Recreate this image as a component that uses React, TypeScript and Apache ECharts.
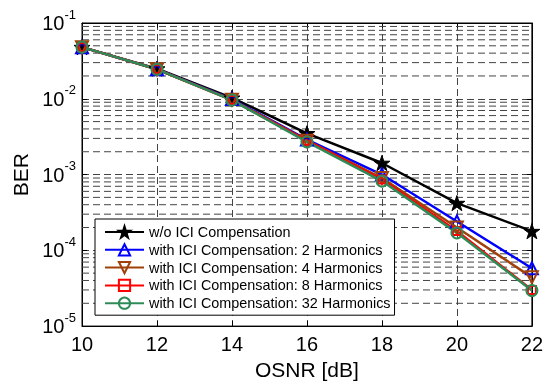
import React, { useEffect, useRef } from "react";
import * as echarts from "echarts";

const osnr = [10, 12, 14, 16, 18, 20, 22];
const berNoComp = [0.048, 0.025, 0.0103, 0.0035, 0.00142, 0.00042, 0.000179];
const ber2H = [0.048, 0.0245, 0.0099, 0.0029, 0.00100, 0.00024, 0.000058];
const ber4H = [0.048, 0.0245, 0.0097, 0.0028, 0.00090, 0.00020, 0.000044];
const ber8H = [0.048, 0.0245, 0.0096, 0.0028, 0.00086, 0.00018, 0.000030];
const ber32H = [0.048, 0.0245, 0.0096, 0.0027, 0.00082, 0.00017, 0.0000295];
const seriesNames = [
  "w/o ICI Compensation",
  "with ICI Compensation: 2 Harmonics",
  "with ICI Compensation: 4 Harmonics",
  "with ICI Compensation: 8 Harmonics",
  "with ICI Compensation: 32 Harmonics",
];
const xTicks = { min: 10, max: 22, interval: 2 };
const yRange = { min: 1e-5, max: 1e-1 };
const minorGridValues: number[] = [];
for (let d = -5; d <= -2; d++) {
  for (let k = 2; k <= 9; k++) minorGridValues.push(k * Math.pow(10, d));
}

const FONT = '"Liberation Sans", Arial, Helvetica, sans-serif';
const STAR =
  "path://M50 0L61.2 34.5L97.6 34.5L68.2 55.9L79.4 90.5L50 69.1L20.6 90.5L31.8 55.9L2.4 34.5L38.8 34.5Z";
const GRID_COLOR = "#444";
const DASH = [7, 4];

export default function App() {
  const ref = useRef<HTMLDivElement>(null);
  useEffect(() => {
    if (!ref.current) return;
    const chart = echarts.init(ref.current, undefined, { renderer: "svg" });
    const mk = (
      name: string,
      data: number[],
      color: string,
      symbol: string,
      size: number,
      filled: boolean,
      rotate = 0
    ) => ({
      name,
      type: "line",
      xAxisIndex: 0,
      yAxisIndex: 0,
      data: osnr.map((x, i) => [x, data[i]]),
      symbol,
      symbolSize: size,
      symbolRotate: rotate,
      symbolKeepAspect: true,
      showAllSymbol: true,
      z: 3,
      color,
      lineStyle: { color, width: 2.5 },
      itemStyle: filled
        ? { color, borderColor: color, borderWidth: 1 }
        : { color: "rgba(255,255,255,0)", borderColor: color, borderWidth: 2 },
    });
    chart.setOption({
      animation: false,
      textStyle: { fontFamily: FONT },
      grid: {
        left: 82,
        right: 11,
        top: 23,
        bottom: 54,
        show: true,
        borderColor: "#000",
        borderWidth: 1,
        backgroundColor: "#fff",
      },
      legend: {
        orient: "vertical",
        left: 95,
        top: 219,
        padding: [6, 4, 5, 9],
        itemWidth: 39,
        itemHeight: 14,
        itemGap: 3.8,
        borderColor: "#000",
        borderWidth: 1,
        borderRadius: 0,
        backgroundColor: "#fff",
        textStyle: { fontSize: 14.4, color: "#000", fontFamily: FONT },
        data: seriesNames,
      },
      xAxis: [
        {
          type: "value",
          ...xTicks,
          name: "OSNR [dB]",
          nameLocation: "middle",
          nameGap: 29,
          nameTextStyle: { fontSize: 21, color: "#000", fontFamily: FONT },
          axisLine: { lineStyle: { color: "#000", width: 1 } },
          axisTick: { inside: true, length: 5, lineStyle: { color: "#000" } },
          axisLabel: { fontSize: 20, color: "#000", margin: 8, fontFamily: FONT },
          splitLine: { show: true, lineStyle: { color: GRID_COLOR, type: DASH, width: 1 } },
        },
        {
          type: "value",
          ...xTicks,
          position: "top",
          axisLine: { lineStyle: { color: "#000", width: 1 } },
          axisTick: { inside: true, length: 5, lineStyle: { color: "#000" } },
          axisLabel: { show: false },
          splitLine: { show: false },
        },
      ],
      yAxis: [
        {
          type: "log",
          logBase: 10,
          ...yRange,
          name: "BER",
          nameLocation: "middle",
          nameGap: 50,
          nameTextStyle: { fontSize: 21, color: "#000", fontFamily: FONT },
          axisLine: { lineStyle: { color: "#000", width: 1 } },
          axisTick: { inside: true, length: 5, lineStyle: { color: "#000" } },
          axisLabel: {
            margin: 6,
            formatter: (v: number) => `{b|10}{s|${Math.round(Math.log10(v))}}`,
            rich: {
              b: { fontSize: 20, color: "#000", fontFamily: FONT },
              s: { fontSize: 13, color: "#000", fontFamily: FONT, padding: [0, 0, 18, 0] },
            },
          },
          splitLine: { show: true, lineStyle: { color: GRID_COLOR, type: DASH, width: 1 } },
        },
        {
          type: "log",
          logBase: 10,
          ...yRange,
          position: "right",
          axisLine: { lineStyle: { color: "#000", width: 1 } },
          axisTick: { inside: true, length: 5, lineStyle: { color: "#000" } },
          axisLabel: { show: false },
          splitLine: { show: false },
        },
      ],
      series: [
        {
          name: "minor-grid",
          type: "custom",
          xAxisIndex: 0,
          yAxisIndex: 0,
          z: 1,
          silent: true,
          data: minorGridValues.map((v) => [xTicks.min, v]),
          renderItem: (params: any, api: any) => {
            const p = api.coord([api.value(0), api.value(1)]);
            const cs = params.coordSys;
            return {
              type: "line",
              silent: true,
              shape: { x1: cs.x, y1: p[1], x2: cs.x + cs.width, y2: p[1] },
              style: { stroke: GRID_COLOR, lineWidth: 1, lineDash: DASH },
            };
          },
        },
        mk(seriesNames[0], berNoComp, "#000000", STAR, 16, true),
        mk(seriesNames[1], ber2H, "#0000ff", "triangle", 12, false),
        mk(seriesNames[2], ber4H, "#a0400a", "triangle", 12, false, 180),
        mk(seriesNames[3], ber8H, "#ff0000", "rect", 8, false),
        mk(seriesNames[4], ber32H, "#2e8b57", "circle", 11, false),
      ],
    });
    return () => chart.dispose();
  }, []);
  return (
    <div
      ref={ref}
      style={{ position: "fixed", left: 0, top: 0, width: 546, height: 385 }}
    />
  );
}
